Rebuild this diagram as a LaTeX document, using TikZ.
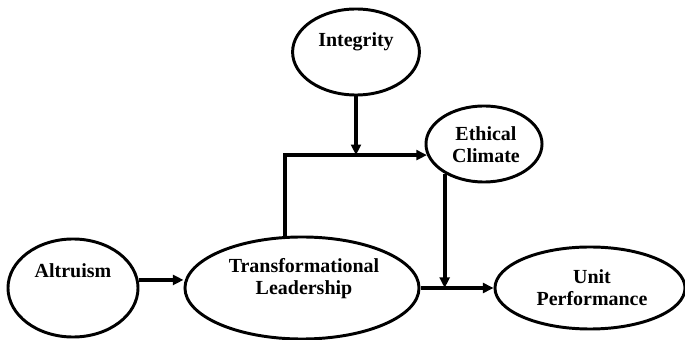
\documentclass[tikz,border=0pt]{standalone}
\usepackage{fontspec}
\setmainfont{Liberation Serif}
\usepackage{tikz}
\usetikzlibrary{arrows.meta, positioning, shapes.geometric, calc}

\begin{document}
\begin{tikzpicture}[x=0.025cm, y=-0.025cm,
    construct/.style={draw, ellipse, line width=2.1pt},
    lbl/.style={font=\fontsize{14.2}{15.6}\selectfont\bfseries, align=center, inner sep=0pt},
    path/.style={line width=2.8pt, -{Triangle[length=7.5pt,width=7pt]}}]
  \useasboundingbox (0,0) rectangle (685,340);
  % constructs
  \node[construct, minimum width=3.17cm, minimum height=2.15cm] (integrity) at (356,52) {};
  \node[construct, minimum width=2.9cm, minimum height=1.9cm] (ethical) at (484,144) {};
  \node[construct, minimum width=3.25cm, minimum height=2.45cm] (altruism) at (73,288) {};
  \node[construct, minimum width=5.85cm, minimum height=2.55cm] (tl) at (302,288) {};
  \node[construct, minimum width=4.75cm, minimum height=2.05cm] (unit) at (590,288) {};
  \node[lbl] (integrity-lbl) at (356,42) {Integrity};
  \node[lbl] (ethical-lbl) at (486,145) {Ethical\\Climate};
  \node[lbl] (altruism-lbl) at (73,271) {Altruism};
  \node[lbl] (tl-lbl) at (304,279) {Transformational\\Leadership};
  \node[lbl] (unit-lbl) at (592,288) {Unit\\Performance};
  % paths
  \draw[path] (altruism.7) -- (altruism.7 -| tl.west);
  \draw[path] (tl.108) |- (ethical.191);
  \draw[path] (integrity.south) -- (integrity.south |- ethical.191);
  \draw[path] (tl.east) -- (unit.west);
  \draw[path] (ethical.217) -- (ethical.217 |- tl.east);
\end{tikzpicture}
\end{document}
